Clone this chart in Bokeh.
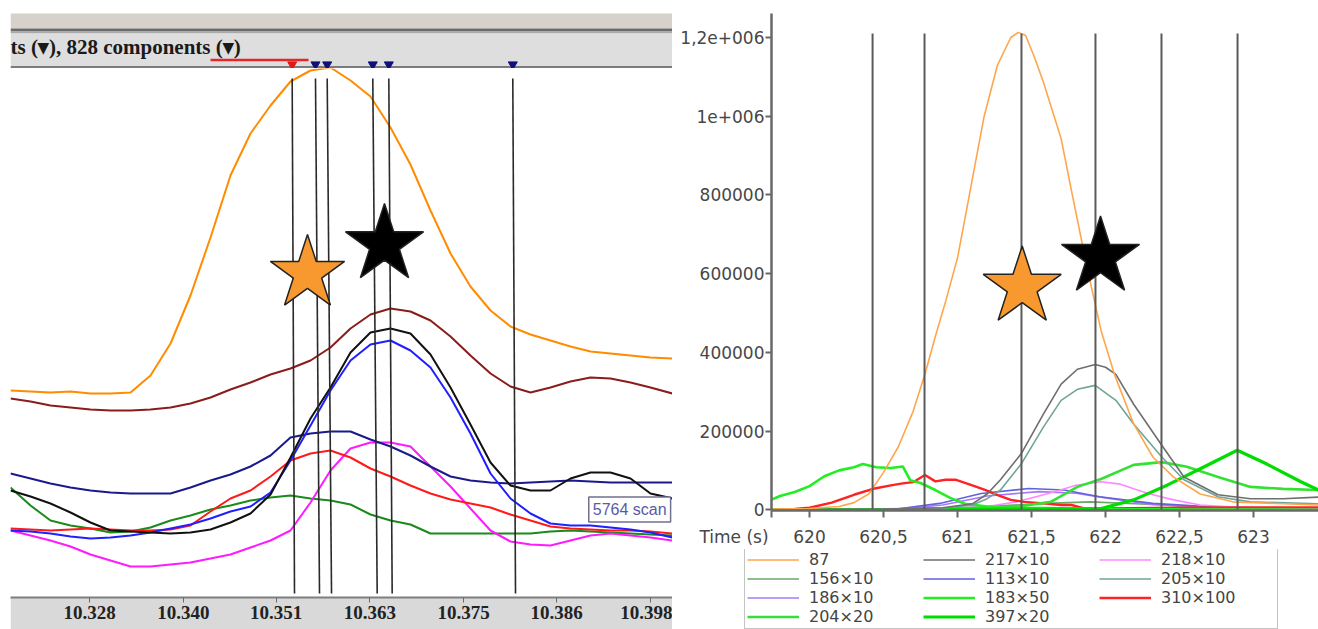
from bokeh.plotting import figure
from bokeh.models import (Range1d, FixedTicker, NumeralTickFormatter, Label,
                          Legend, LegendItem, BoxAnnotation, Spacer)
from bokeh.layouts import row, column
from bokeh.embed import file_html
from bokeh.resources import INLINE

# ---------------- left panel data (retention time, min) ----------------
left_time = [10.31814, 10.32064, 10.32313, 10.32563, 10.32812, 10.33062, 10.33312,
             10.33561, 10.33811, 10.34060, 10.34310, 10.34559, 10.34809, 10.35059,
             10.35308, 10.35558, 10.35807, 10.36057, 10.36306, 10.36556, 10.36805,
             10.37055, 10.37305, 10.37554, 10.37804, 10.38053, 10.38303, 10.38552,
             10.38802, 10.39052, 10.39301, 10.39551, 10.39800, 10.40075]
left_orange = [207, 206, 205, 206, 204, 204, 205, 222, 254, 302, 360, 422, 464, 492,
               516, 527, 530, 517, 501, 470, 433, 387, 344, 311, 287, 271, 263, 257,
               251, 246, 244, 242, 240, 239]
left_maroon = [199, 196, 192, 190, 188, 187, 187, 188, 190, 194, 200, 208, 215, 223,
               229, 237, 250, 269, 283, 289, 286, 277, 261, 242, 224, 211, 205, 210,
               216, 220, 219, 215, 210, 204]
left_black = [107, 101, 94, 85, 75, 67, 66, 65, 64, 65, 68, 75, 84, 103, 140, 179, 210,
              245, 265, 269, 264, 243, 210, 173, 135, 112, 107, 107, 119, 125, 125, 119,
              104, 99]
left_blue = [67, 66, 64, 61, 59, 60, 62, 65, 69, 73, 79, 86, 91, 105, 137, 172, 207, 237,
             253, 257, 247, 230, 200, 164, 124, 99, 84, 74, 72, 72, 70, 68, 65, 60]
left_navy = [124, 119, 114, 110, 107, 105, 104, 104, 104, 110, 117, 123, 131, 142, 160,
             164, 166, 166, 158, 151, 142, 131, 121, 117, 115, 114, 115, 116, 117, 116,
             115, 115, 115, 115]
left_red = [69, 68, 67, 68, 69, 68, 67, 67, 68, 72, 86, 99, 107, 121, 137, 144, 147, 140,
            129, 121, 112, 104, 98, 94, 90, 83, 77, 71, 69, 68, 67, 67, 66, 64]
left_green = [110, 92, 77, 72, 69, 65, 66, 70, 77, 82, 88, 92, 97, 100, 102, 99, 97, 93,
              83, 77, 73, 64, 64, 64, 64, 64, 64, 66, 67, 66, 65, 64, 63, 62]
left_magenta = [67, 62, 57, 51, 43, 37, 31, 31, 33, 35, 39, 43, 50, 57, 67, 95, 127, 149,
                155, 155, 151, 131, 111, 89, 67, 56, 53, 52, 57, 62, 64, 62, 60, 57]

left_ticks = [10.3163, 10.3280, 10.3397, 10.3513, 10.3630, 10.3747, 10.3863, 10.3980]
left_marker_top = [10.35329, 10.35620, 10.35766, 10.36335, 10.36535, 10.38082]
left_marker_bottom = [10.35358, 10.35670, 10.35820, 10.36390, 10.36577, 10.38116]
left_marker_colors = ["#e01818", "#10107a", "#10107a", "#10107a", "#10107a", "#10107a"]
selection_range = [10.34310, 10.35533]
left_star_x = [10.35520, 10.36481]
left_star_y = [324, 353]
scan_text = "5764 scan"
header_text = "ts (\u25be), 828 components (\u25be)"

# ---------------- right panel data (time s, intensity) ----------------
t_87 = [619.74, 620.0, 620.2, 620.3, 620.4, 620.5, 620.6, 620.7, 620.78, 620.85, 620.92,
        621.0, 621.08, 621.18, 621.27, 621.36, 621.41, 621.46, 621.52, 621.58, 621.7,
        621.78, 621.88, 621.97, 622.06, 622.19, 622.32, 622.46, 622.64, 622.86, 623.2, 623.44]
v_87 = [2000, 3000, 8000, 18000, 40000, 95000, 160000, 250000, 345000, 440000, 530000,
        640000, 800000, 1000000, 1130000, 1200000, 1213000, 1205000, 1150000, 1087000,
        943000, 792000, 607000, 455000, 344000, 218000, 134000, 83000, 40000, 20000,
        15000, 12000]
t_217 = [619.74, 620.5, 620.9, 621.1, 621.2, 621.29, 621.43, 621.58, 621.7, 621.81, 621.93,
         622.0, 622.07, 622.19, 622.38, 622.53, 622.76, 622.98, 623.2, 623.44]
v_217 = [0, 2000, 5000, 15000, 40000, 76000, 142000, 243000, 319000, 357000, 369000,
         362000, 344000, 268000, 164000, 83000, 38000, 28000, 28000, 32000]
t_205 = [619.74, 620.5, 620.9, 621.1, 621.2, 621.29, 621.43, 621.58, 621.7, 621.81, 621.93,
         622.07, 622.19, 622.38, 622.53, 622.76, 622.98, 623.44]
v_205 = [0, 1000, 4000, 12000, 28000, 50000, 116000, 210000, 278000, 306000, 316000,
         278000, 218000, 134000, 76000, 33000, 20000, 15000]
t_183 = [619.74, 619.8, 619.9, 620.0, 620.1, 620.2, 620.3, 620.36, 620.45, 620.55, 620.63,
         620.68, 620.75, 620.85, 620.95, 621.05, 621.2, 621.4, 621.6, 622.0, 622.5, 623.0,
         623.44]
v_183 = [25000, 35000, 45000, 60000, 85000, 100000, 108000, 116000, 108000, 106000, 110000,
         75000, 68000, 50000, 30000, 15000, 8000, 5000, 4000, 2000, 1000, 500, 0]
t_204 = [619.74, 620.5, 621.0, 621.3, 621.45, 621.63, 621.81, 621.97, 622.19, 622.38,
         622.55, 622.76, 622.98, 623.2, 623.44]
v_204 = [0, 1000, 3000, 5000, 10000, 20000, 58000, 78000, 114000, 121000, 109000, 83000,
         58000, 53000, 50000]
t_397 = [619.74, 621.0, 621.6, 621.97, 622.19, 622.42, 622.64, 622.89, 623.09, 623.32, 623.44]
v_397 = [0, 1000, 2000, 3000, 25000, 63000, 104000, 151000, 116000, 71000, 50000]
t_310 = [619.74, 619.9, 620.0, 620.15, 620.3, 620.44, 620.55, 620.63, 620.7, 620.78, 620.85,
         620.92, 620.99, 621.1, 621.19, 621.28, 621.36, 621.45, 621.58, 621.7, 621.77,
         621.85, 622.0, 622.5, 623.0, 623.44]
v_310 = [0, 2000, 5000, 18000, 38000, 54000, 62000, 67000, 70000, 88000, 72000, 76000,
         76000, 62000, 50000, 36000, 25000, 20000, 16000, 12000, 12000, 4000, 3000, 5000,
         6000, 6000]
t_113 = [619.74, 620.59, 620.88, 621.16, 621.48, 621.72, 621.96, 622.32, 622.68, 623.0, 623.44]
v_113 = [0, 2000, 16000, 41000, 54000, 50000, 33000, 16000, 8000, 5000, 4000]
t_186 = [619.74, 620.6, 620.9, 621.2, 621.55, 621.8, 622.0, 622.3, 622.7, 623.44]
v_186 = [0, 1500, 12000, 35000, 46000, 42000, 30000, 14000, 6000, 3000]
t_218 = [619.74, 620.5, 621.0, 621.2, 621.4, 621.55, 621.65, 621.8, 621.97, 622.1, 622.2,
         622.3, 622.46, 622.64, 622.9, 623.44]
v_218 = [0, 0, 3000, 8000, 20000, 35000, 45000, 62000, 71000, 65000, 52000, 40000, 25000,
         12000, 6000, 4000]
t_156 = [619.74, 620.8, 621.2, 621.6, 621.9, 622.2, 622.6, 623.0, 623.44]
v_156 = [0, 2000, 8000, 16000, 20000, 15000, 8000, 5000, 4000]

right_marker_times = [620.426, 620.777, 621.432, 621.932, 622.378, 622.892]
right_marker_top = 1210000
right_star_x = [621.437, 621.966]
right_star_y = [566000, 642000]
x_axis_title = "Time (s)"
x_axis_title_pos = 619.745
x_tick_values = [620, 620.5, 621, 621.5, 622, 622.5, 623]
x_tick_labels = ["620", "620,5", "621", "621,5", "622", "622,5", "623"]
y_tick_values = [0, 200000, 400000, 600000, 800000, 1000000, 1200000]
y_tick_labels = ["0", "200000", "400000", "600000", "800000", "1e+006", "1,2e+006"]
legend_labels = ["87", "217\u00d710", "218\u00d710", "156\u00d710", "113\u00d710", "205\u00d710",
                 "186\u00d710", "183\u00d750", "310\u00d7100", "204\u00d720", "397\u00d720"]

# ======================= LEFT PANEL =======================
xr_left = Range1d(10.31814, 10.40075)

hdr = figure(width=662, height=68, x_range=xr_left, y_range=Range1d(0, 68),
             output_backend="svg", toolbar_location=None,
             min_border_left=0, min_border_right=0, min_border_top=0, min_border_bottom=0)
hdr.axis.visible = False
hdr.grid.visible = False
hdr.outline_line_color = None
hdr.border_fill_color = "white"
for b, t, c in [(40, 55, "#d6d2ca"), (37, 40, "#6b6b6b"), (35, 37, "#a8a8a8"),
                (2.5, 35, "#dedede"), (0, 2.5, "#7b7b7b")]:
    hdr.add_layout(BoxAnnotation(bottom=b, top=t, fill_color=c, fill_alpha=1.0,
                                 line_color=None, level="underlay"))
hdr.add_layout(Label(x=0, y=22, x_units="screen", y_units="screen", text=header_text,
                     text_font="Liberation Serif", text_font_style="bold",
                     text_font_size="21px", text_color="#1a1a1a", text_baseline="middle"))
hdr.segment(x0=[selection_range[0]], y0=[8.5], x1=[selection_range[1]], y1=[8.5],
            line_color="#e8262a", line_width=2.5)
hdr.scatter(x=left_marker_top, y=[4] * len(left_marker_top), marker="inverted_triangle",
            size=9, fill_color=left_marker_colors, line_color=left_marker_colors)

lp = figure(width=662, height=561, x_range=xr_left, y_range=Range1d(0, 529),
            output_backend="svg", toolbar_location=None,
            min_border_left=0, min_border_right=0, min_border_top=0, min_border_bottom=32)
lp.yaxis.visible = False
lp.grid.visible = False
lp.outline_line_color = None
lp.border_fill_color = "#d9d9d9"
ax = lp.xaxis[0]
ax.ticker = FixedTicker(ticks=left_ticks)
ax.formatter = NumeralTickFormatter(format="0.000")
ax.major_label_text_font = "Liberation Serif"
ax.major_label_text_font_style = "bold"
ax.major_label_text_font_size = "19px"
ax.major_label_text_color = "#222222"
ax.axis_line_color = "#7f7f7f"
ax.axis_line_width = 2
ax.major_tick_line_color = "#6a6a6a"
ax.major_tick_out = 5
ax.major_tick_in = 0
ax.minor_tick_line_color = None
ax.major_label_standoff = 3

left_series = [(left_green, "#1a8a1a"), (left_magenta, "#ff1aff"), (left_red, "#ff1a1a"),
               (left_navy, "#1a1a8c"), (left_blue, "#1f1fff"), (left_black, "#111111"),
               (left_maroon, "#8a1c1c"), (left_orange, "#ff8c00")]
for ys, col in left_series:
    lp.line(left_time, ys, line_color=col, line_width=2)

lp.segment(x0=left_marker_top, y0=[519] * 6, x1=left_marker_bottom, y1=[4] * 6,
           line_color="#2a2a2a", line_width=1.6)
lp.scatter(x=left_star_x, y=left_star_y, marker="star", size=[78, 82],
           fill_color=["#f7992e", "#000000"], line_color="#222222", line_width=1.5)
lp.add_layout(Label(x=10.3903, y=88, text=scan_text, text_font="Liberation Sans",
                    text_font_size="16px", text_color="#5a5aa8", text_baseline="middle",
                    border_line_color="#707090", border_line_width=1.5,
                    background_fill_color="white", padding=4))

left_col = column(hdr, lp, spacing=0)

# ======================= RIGHT PANEL =======================
xr_right = Range1d(619.743, 623.439)
rp = figure(width=646, height=549, x_range=xr_right,
            y_range=Range1d(-2000, 1261000), output_backend="svg", toolbar_location=None,
            min_border_left=99, min_border_right=0, min_border_top=13, min_border_bottom=36)
rp.grid.visible = False
rp.outline_line_color = None
nbsp = "\u00a0"
rp.xaxis.ticker = FixedTicker(ticks=[x_axis_title_pos] + x_tick_values)
overrides = dict(zip(x_tick_values, x_tick_labels))
overrides[x_axis_title_pos] = x_axis_title + nbsp * 14
rp.xaxis.major_label_overrides = overrides
rp.yaxis.ticker = FixedTicker(ticks=y_tick_values)
rp.yaxis.major_label_overrides = dict(zip(y_tick_values, y_tick_labels))
for a in (rp.xaxis[0], rp.yaxis[0]):
    a.axis_line_color = "#686868"
    a.axis_line_width = 2.5
    a.major_tick_line_color = "#686868"
    a.major_tick_line_width = 2
    a.major_tick_out = 7
    a.major_tick_in = 0
    a.minor_tick_line_color = None
    a.major_label_text_font = "DejaVu Sans"
    a.major_label_text_font_size = "17px"
    a.major_label_text_color = "#474747"
rp.xaxis[0].major_label_standoff = 9
rp.yaxis[0].major_label_standoff = 1
rp.yaxis[0].major_tick_out = 6

series = {
    "87": (t_87, v_87, "#ffa64d", 1.6),
    "217\u00d710": (t_217, v_217, "#6e6e6e", 1.6),
    "218\u00d710": (t_218, v_218, "#ff88ff", 1.6),
    "156\u00d710": (t_156, v_156, "#6aa86a", 1.6),
    "113\u00d710": (t_113, v_113, "#6262dc", 1.6),
    "205\u00d710": (t_205, v_205, "#6fa595", 1.6),
    "186\u00d710": (t_186, v_186, "#a877ff", 1.6),
    "183\u00d750": (t_183, v_183, "#22ee22", 2.6),
    "310\u00d7100": (t_310, v_310, "#ff2222", 2.4),
    "204\u00d720": (t_204, v_204, "#33e033", 2.6),
    "397\u00d720": (t_397, v_397, "#00dd00", 3.2),
}
draw_order = ["156\u00d710", "186\u00d710", "113\u00d710", "218\u00d710", "310\u00d7100",
              "183\u00d750", "204\u00d720", "397\u00d720", "205\u00d710", "217\u00d710", "87"]
for name in draw_order:
    t, v, col, w = series[name]
    rp.line(t, v, line_color=col, line_width=w)

rp.segment(x0=right_marker_times, y0=[right_marker_top] * len(right_marker_times),
           x1=right_marker_times, y1=[0] * len(right_marker_times),
           line_color="#5a5a5a", line_width=2)
rp.scatter(x=right_star_x, y=right_star_y, marker="star", size=82,
           fill_color=["#f7992e", "#000000"], line_color="#222222", line_width=1.5)

# legend strip under the right chart (same series, drawn outside its visible range)
lg = figure(width=646, height=80, x_range=Range1d(0, 1), y_range=Range1d(-10, -9),
            output_backend="svg", toolbar_location=None,
            x_axis_location=None, y_axis_location=None,
            min_border_left=0, min_border_right=0, min_border_top=0, min_border_bottom=0)
lg.grid.visible = False
lg.outline_line_color = None
leg_renderers = {}
for name in legend_labels:
    t, v, col, w = series[name]
    leg_renderers[name] = lg.line(t, v, line_color=col, line_width=w)
legend = Legend(items=[LegendItem(label=n, renderers=[leg_renderers[n]]) for n in legend_labels],
                location=(72, 0), orientation="horizontal", ncols=3,
                glyph_width=52, glyph_height=19, label_height=19, label_width=114,
                label_standoff=10, spacing=0, padding=2, margin=0,
                label_text_font="DejaVu Sans", label_text_font_size="16px",
                label_text_color="#444444", border_line_color="#8a8a8a",
                border_line_width=1.5, background_fill_color="white",
                background_fill_alpha=1.0)
lg.add_layout(legend)

right_col = column(rp, row(lg), spacing=0)
layout = row(Spacer(width=10, height=629), left_col, right_col, spacing=0)
open("out.html", "w").write(file_html(layout, INLINE))
